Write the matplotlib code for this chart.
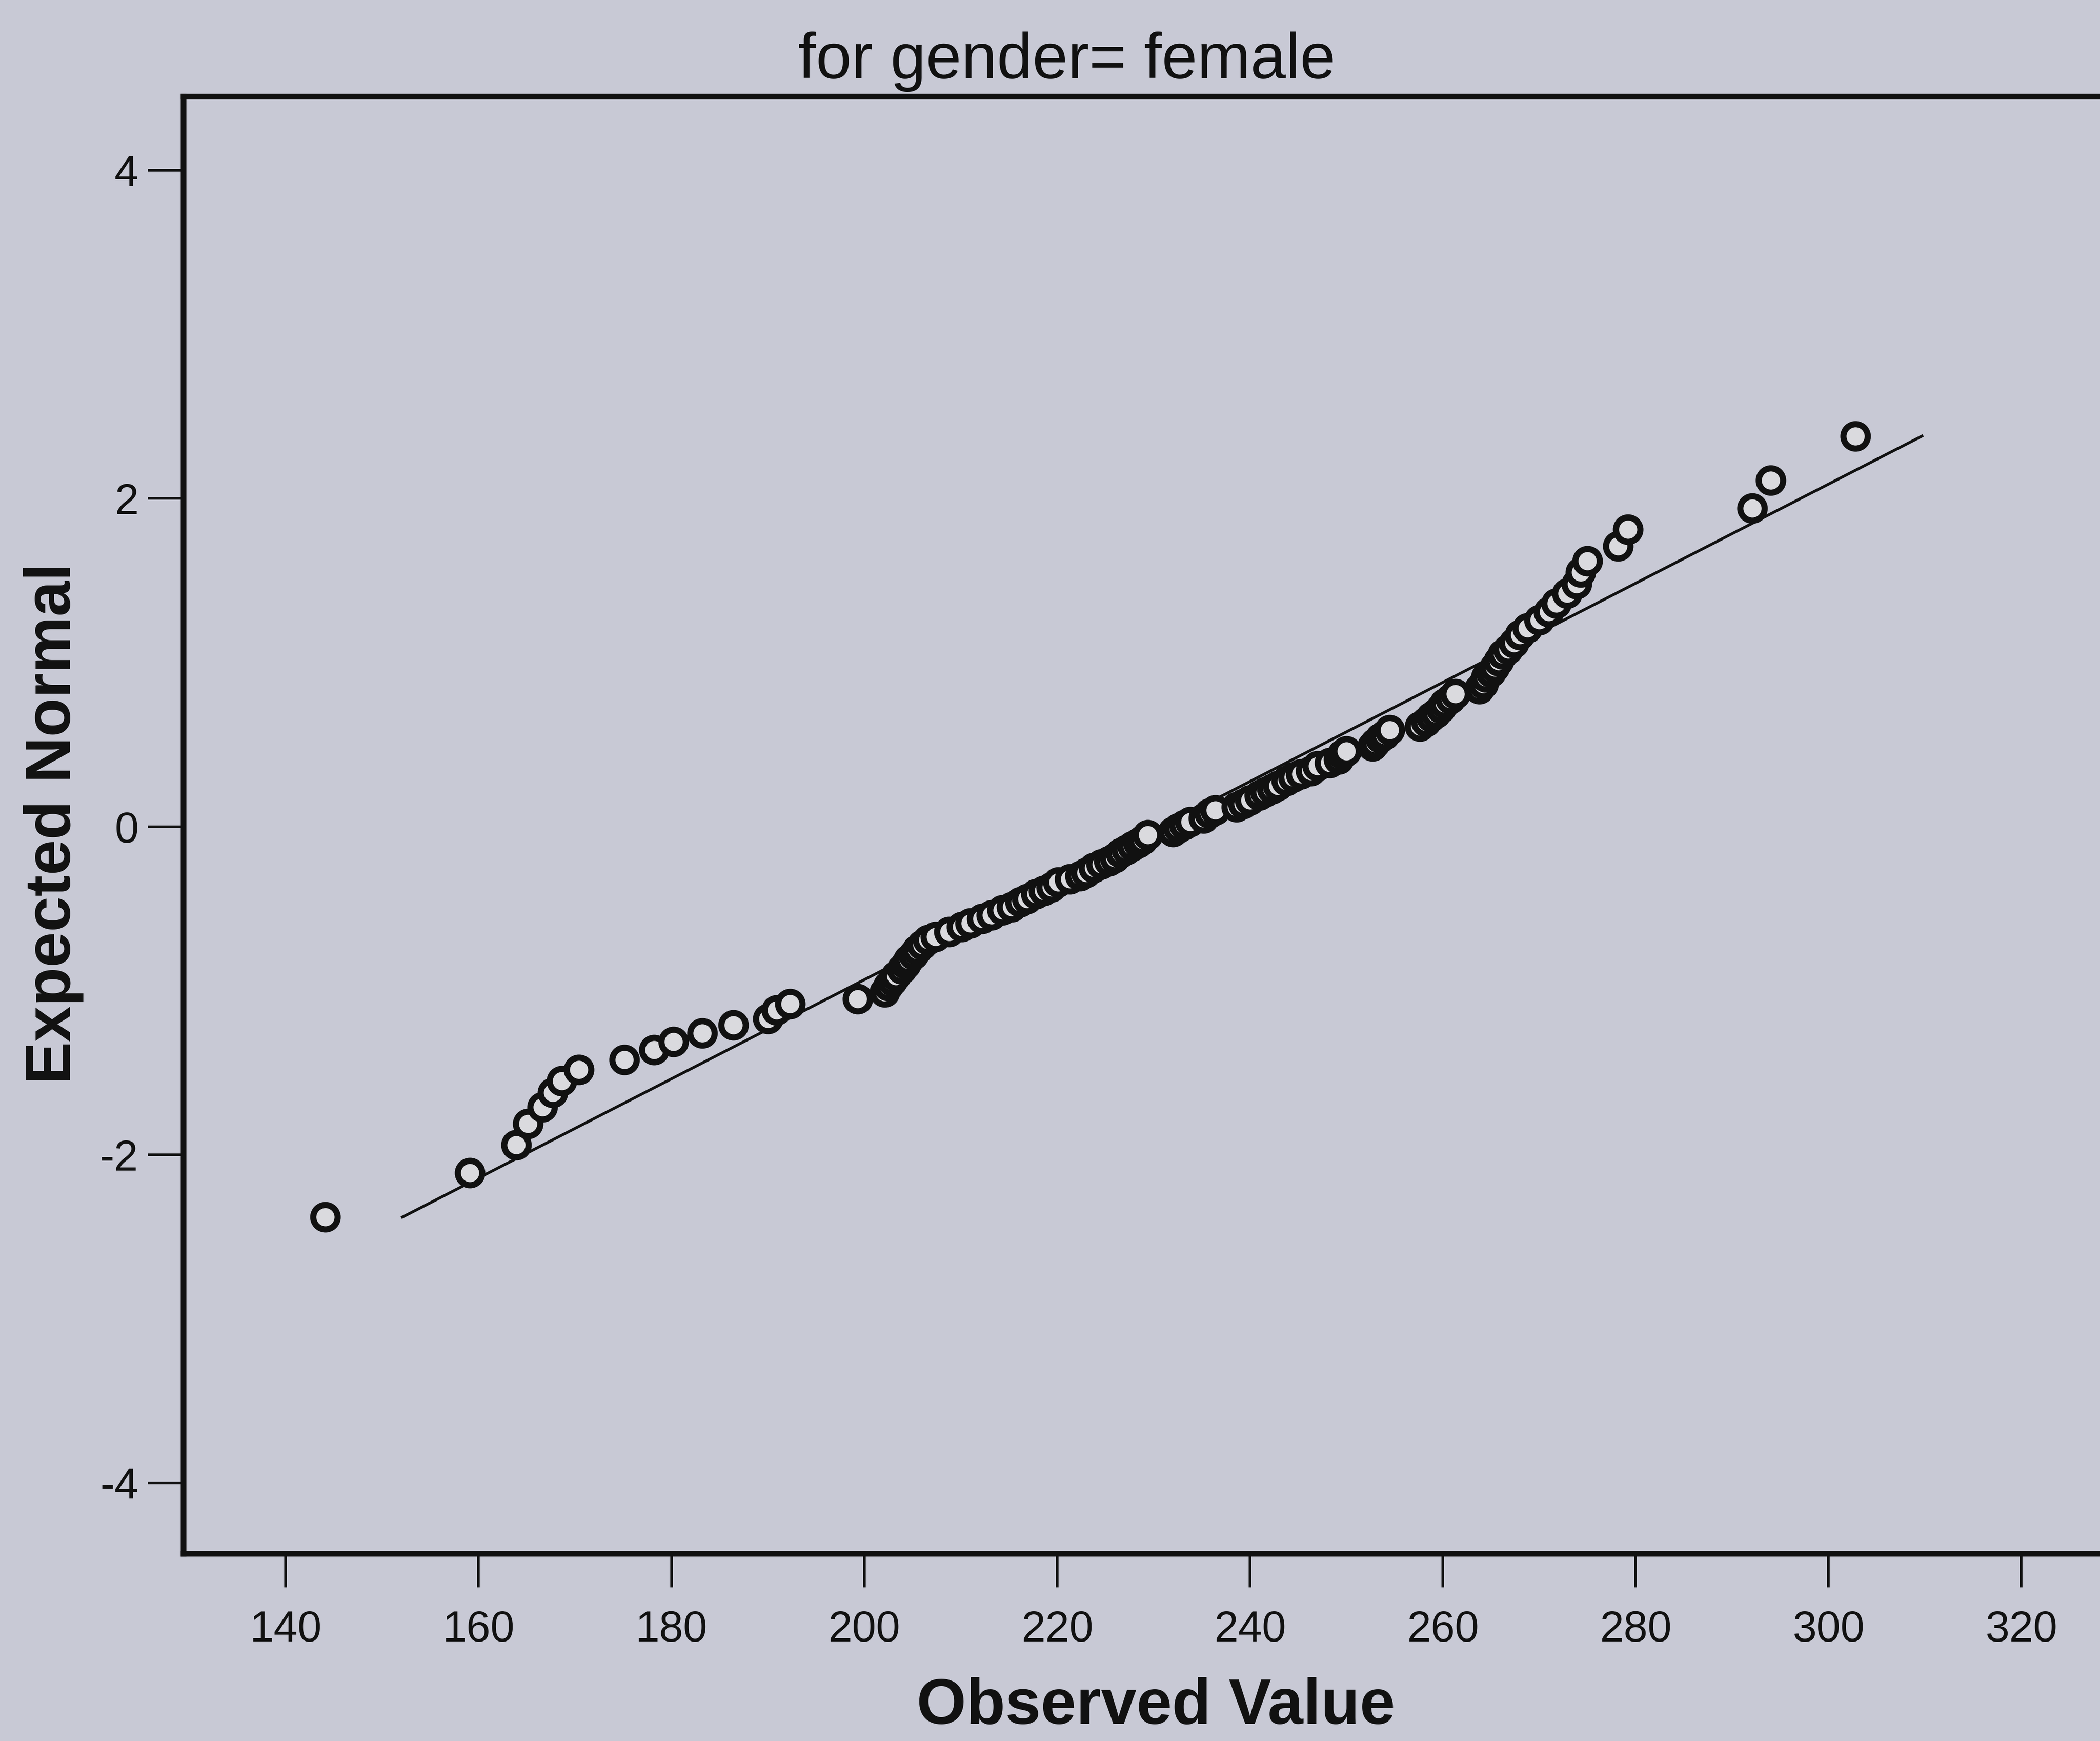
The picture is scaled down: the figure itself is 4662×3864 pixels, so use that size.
import matplotlib
matplotlib.use("Agg")
import matplotlib.pyplot as plt

# ---------------------------------------------------------------------------
# Data read off the normal Q-Q plot (observed value vs expected normal)
# ---------------------------------------------------------------------------
observed_value = [
    144.1, 159.1, 163.9, 165.1, 166.6, 167.7, 168.6, 170.4, 175.1, 178.2,
    180.2, 183.2, 186.4, 190.0, 190.9, 192.3, 199.3, 202.1, 202.5, 202.9,
    203.3, 203.9, 204.3, 204.6, 205.1, 205.5, 206.0, 206.6, 207.4, 208.8,
    210.1, 211.0, 212.2, 213.2, 214.3, 215.3, 216.2, 216.9, 217.8, 218.6,
    219.4, 220.1, 221.3, 222.4, 223.0, 223.8, 224.6, 225.4, 226.0, 226.6,
    227.2, 227.8, 228.4, 228.9, 229.4, 232.0, 232.6, 233.2, 233.8, 235.2,
    235.8, 236.4, 238.6, 239.3, 240.0, 241.0, 241.6, 242.3, 242.9, 243.8,
    244.5, 245.3, 246.3, 247.0, 248.3, 249.2, 249.6, 250.0, 252.7, 253.0,
    253.5, 254.0, 254.5, 257.6, 258.3, 258.8, 259.3, 259.8, 260.2, 260.8,
    261.3, 263.8, 264.2, 264.5, 265.0, 265.4, 265.8, 266.2, 266.8, 267.4,
    268.0, 268.8, 270.0, 271.0, 271.8, 272.9, 273.9, 274.3, 275.0, 278.2,
    279.2, 292.1, 294.0, 302.8,
]
expected_normal = [
    -2.38, -2.11, -1.94, -1.81, -1.71, -1.62, -1.55, -1.48, -1.42, -1.36,
    -1.31, -1.26, -1.21, -1.17, -1.12, -1.08, -1.05, -1.01, -0.97, -0.94,
    -0.91, -0.87, -0.84, -0.81, -0.78, -0.75, -0.72, -0.69, -0.67, -0.64,
    -0.61, -0.59, -0.56, -0.54, -0.51, -0.49, -0.46, -0.44, -0.41, -0.39,
    -0.37, -0.34, -0.32, -0.30, -0.28, -0.25, -0.23, -0.21, -0.19, -0.16,
    -0.14, -0.12, -0.10, -0.08, -0.05, -0.03, -0.01, 0.01, 0.03, 0.05,
    0.08, 0.10, 0.12, 0.14, 0.16, 0.19, 0.21, 0.23, 0.25, 0.28,
    0.30, 0.32, 0.34, 0.37, 0.39, 0.41, 0.44, 0.46, 0.49, 0.51,
    0.54, 0.56, 0.59, 0.61, 0.64, 0.67, 0.69, 0.72, 0.75, 0.78,
    0.81, 0.84, 0.87, 0.91, 0.94, 0.97, 1.01, 1.05, 1.08, 1.12,
    1.17, 1.21, 1.26, 1.31, 1.36, 1.42, 1.48, 1.55, 1.62, 1.71,
    1.81, 1.94, 2.11, 2.38,
]

# reference line end points
ref_x = [152.1, 309.7]
ref_y = [-2.38, 2.38]

x_ticks = [140, 160, 180, 200, 220, 240, 260, 280, 300, 320]
y_ticks = [-4, -2, 0, 2, 4]

title = "for gender= female"
x_label = "Observed Value"
y_label = "Expected Normal"

# ---------------------------------------------------------------------------
# Style
# ---------------------------------------------------------------------------
bg = "#c8c9d5"
plt.rcParams["font.family"] = ["Liberation Sans", "DejaVu Sans"]
plt.rcParams["axes.unicode_minus"] = False

fig = plt.figure(figsize=(4662 / 300, 3864 / 300), dpi=300, facecolor=bg)
ax = fig.add_axes([0.0874, 0.1077, 1.013 - 0.0874, 0.9446 - 0.1077])
ax.set_facecolor(bg)

ax.plot(ref_x, ref_y, color="#111111", linewidth=1.5, zorder=2)
ax.plot(observed_value, expected_normal, linestyle="none", marker="o",
        markersize=13.0, markeredgewidth=3.3, markerfacecolor="#dadade",
        markeredgecolor="#111111", zorder=3)

ax.set_xlim(129.4, 331.0)
ax.set_ylim(-4.43, 4.45)
ax.set_xticks(x_ticks)
ax.set_yticks(y_ticks)
ax.set_xticklabels([str(v) for v in x_ticks])
ax.set_yticklabels([str(v) for v in y_ticks])

for side in ("left", "bottom", "top"):
    ax.spines[side].set_linewidth(3.0)
    ax.spines[side].set_color("#111111")
ax.spines["right"].set_visible(False)

ax.tick_params(axis="y", direction="out", length=19, width=1.4,
               labelsize=23, pad=5, colors="#111111")
ax.tick_params(axis="x", direction="out", length=18, width=1.4,
               labelsize=23, pad=12, colors="#111111")

fig.text(0.508, 0.955, title, ha="center", va="baseline",
         fontsize=34, color="#111111")
fig.text(863 / 1568, 1 - 1287 / 1300, x_label, ha="center", va="baseline",
         fontsize=34, fontweight="bold", color="#111111")
fig.text(40 / 1568, 1 - 615 / 1300, y_label, ha="center", va="center",
         rotation=90, fontsize=34, fontweight="bold", color="#111111")

fig.savefig("out.png", dpi=300, facecolor=bg)
